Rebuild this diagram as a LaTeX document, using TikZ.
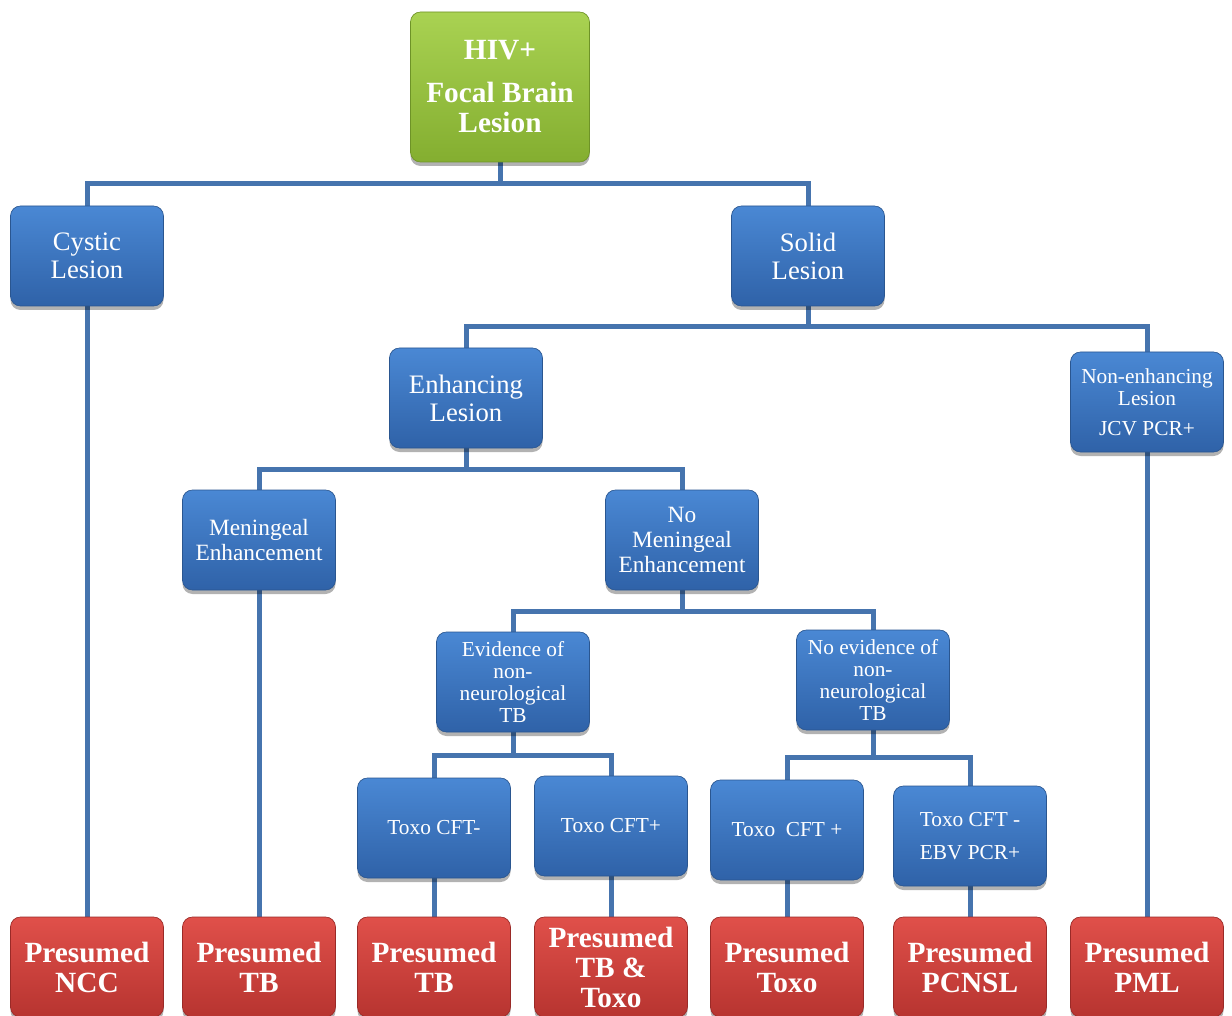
\documentclass[tikz,border=0pt]{standalone}
\usepackage{fontspec}
\setmainfont{Liberation Serif}
\usetikzlibrary{shadows,backgrounds}
\definecolor{bluetop}{HTML}{4A88D4}
\definecolor{bluebot}{HTML}{2F62A8}
\definecolor{blueedge}{HTML}{2A5690}
\definecolor{redtop}{HTML}{E0504A}
\definecolor{redbot}{HTML}{B73430}
\definecolor{rededge}{HTML}{9A2A27}
\definecolor{greentop}{HTML}{A9D252}
\definecolor{greenbot}{HTML}{84AE30}
\definecolor{greenedge}{HTML}{6E9327}
\definecolor{connc}{HTML}{4674AE}
\tikzset{
  basebox/.style={rounded corners=7.5pt, align=center, text=white, line width=0.5pt,
    inner sep=2pt, drop shadow={shadow xshift=0pt, shadow yshift=-3pt, opacity=0.3, fill=black}},
  bbox/.style={basebox, draw=blueedge, top color=bluetop, bottom color=bluebot,
    minimum width=114.75pt, minimum height=75pt},
  rbox/.style={basebox, draw=rededge, top color=redtop, bottom color=redbot,
    minimum width=114.75pt, minimum height=75pt,
    font=\bfseries\fontsize{22}{22.5}\selectfont},
  gbox/.style={basebox, draw=greenedge, top color=greentop, bottom color=greenbot,
    minimum width=134.25pt, minimum height=112.5pt,
    font=\bfseries\fontsize{22}{22.5}\selectfont},
  fbig/.style={font=\fontsize{20}{21}\selectfont},
  fmid/.style={font=\fontsize{17.5}{18.75}\selectfont},
  fsmall/.style={font=\fontsize{16}{16.5}\selectfont},
  conn/.style={draw=connc, line width=3.75pt, line cap=rect}
}
\begin{document}
\begin{tikzpicture}[x=0.75pt,y=-0.75pt]
\useasboundingbox (0,0) rectangle (1232,1016);
\clip (0,0) rectangle (1232,1016);

% nodes
\node[gbox] (root) at (500,87) {HIV+\\[9.75pt]Focal Brain\\Lesion};
\node[bbox,fbig] (cyst) at (87,256) {Cystic\\Lesion};
\node[bbox,fbig] (solid) at (808,256) {Solid\\Lesion};
\node[bbox,fbig] (enh) at (466,398) {Enhancing\\Lesion};
\node[bbox,fsmall] (nonenh) at (1147,402) {Non-enhancing\\Lesion\\[6pt]JCV PCR+};
\node[bbox,fmid] (men) at (259,540) {Meningeal\\Enhancement};
\node[bbox,fmid] (nomen) at (682,540) {No\\Meningeal\\Enhancement};
\node[bbox,fsmall] (evid) at (513,682) {Evidence of\\non-\\neurological\\TB};
\node[bbox,fsmall] (noevid) at (873,680) {No evidence of\\non-\\neurological\\TB};
\node[bbox,fsmall] (cftm) at (434,828) {Toxo CFT-};
\node[bbox,fsmall] (cftp) at (611,826) {Toxo CFT+};
\node[bbox,fsmall] (cftpb) at (787,830) {Toxo\ \ CFT +};
\node[bbox,fsmall] (ebv) at (970,836) {Toxo CFT -\\[8pt]EBV PCR+};

\node[rbox] (ncc) at (87,967) {Presumed\\NCC};
\node[rbox] (tba) at (259,967) {Presumed\\TB};
\node[rbox] (tbb) at (434,967) {Presumed\\TB};
\node[rbox] (tbtoxo) at (611,967) {Presumed\\TB \&\\Toxo};
\node[rbox] (toxo) at (787,967) {Presumed\\Toxo};
\node[rbox] (pcnsl) at (970,967) {Presumed\\PCNSL};
\node[rbox] (pml) at (1147,967) {Presumed\\PML};

% bus levels
\coordinate (b1) at (0,184);
\coordinate (b2) at (0,327);
\coordinate (b3) at (0,469);
\coordinate (b4) at (0,611);
\coordinate (b5) at (0,755);
\coordinate (b6) at (0,757);

\begin{scope}[on background layer]
\draw[conn] (root.south) -- (root.south |- b1) -| (cyst.north);
\draw[conn] (root.south |- b1) -| (solid.north);
\draw[conn] (solid.south) -- (solid.south |- b2) -| (enh.north);
\draw[conn] (solid.south |- b2) -| (nonenh.north);
\draw[conn] (enh.south) -- (enh.south |- b3) -| (men.north);
\draw[conn] (enh.south |- b3) -| (nomen.north);
\draw[conn] (nomen.south) -- (nomen.south |- b4) -| (evid.north);
\draw[conn] (nomen.south |- b4) -| (noevid.north);
\draw[conn] (evid.south) -- (evid.south |- b5) -| (cftm.north);
\draw[conn] (evid.south |- b5) -| (cftp.north);
\draw[conn] (noevid.south) -- (noevid.south |- b6) -| (cftpb.north);
\draw[conn] (noevid.south |- b6) -| (ebv.north);
\draw[conn] (cyst.south) -- (ncc.north);
\draw[conn] (men.south) -- (tba.north);
\draw[conn] (cftm.south) -- (tbb.north);
\draw[conn] (cftp.south) -- (tbtoxo.north);
\draw[conn] (cftpb.south) -- (toxo.north);
\draw[conn] (ebv.south) -- (pcnsl.north);
\draw[conn] (nonenh.south) -- (pml.north);
\end{scope}
\end{tikzpicture}
\end{document}
